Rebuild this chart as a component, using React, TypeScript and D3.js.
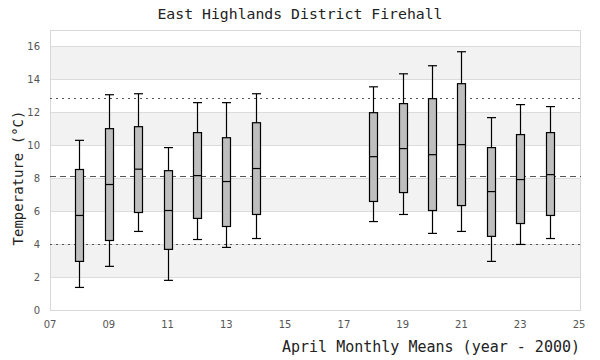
import { useEffect, useRef } from "react";
import * as d3 from "d3";

// April monthly means, year - 2000
const years = [8, 9, 10, 11, 12, 13, 14, 18, 19, 20, 21, 22, 23, 24];
const whiskerLow = [1.37, 2.65, 4.77, 1.8, 4.28, 3.8, 4.34, 5.37, 5.8, 4.65, 4.77, 2.95, 3.98, 4.34];
const q1 = [2.95, 4.22, 5.92, 3.68, 5.56, 5.07, 5.8, 6.59, 7.13, 6.04, 6.34, 4.47, 5.25, 5.74];
const median = [5.74, 7.62, 8.55, 6.04, 8.16, 7.8, 8.59, 9.31, 9.8, 9.43, 10.04, 7.19, 7.92, 8.22];
const q3 = [8.53, 11.01, 11.13, 8.46, 10.77, 10.46, 11.37, 11.98, 12.53, 12.83, 13.74, 9.86, 10.65, 10.77];
const whiskerHigh = [10.3, 13.07, 13.13, 9.86, 12.59, 12.59, 13.13, 13.55, 14.34, 14.83, 15.68, 11.68, 12.47, 12.35];

const yTicks = [0, 2, 4, 6, 8, 10, 12, 14, 16];
const xTicks = [7, 9, 11, 13, 15, 17, 19, 21, 23, 25];
const overallMean = 8.15;
const upperRef = 12.85;
const lowerRef = 3.98;

const W = 600;
const H = 360;
const margin = { top: 30, right: 20, bottom: 50, left: 50 };

const App = () => {
  const ref = useRef<SVGSVGElement | null>(null);

  useEffect(() => {
    if (!ref.current) return;
    const svg = d3.select(ref.current);
    svg.selectAll("*").remove();

    const x = d3.scaleLinear().domain([7, 25]).range([margin.left, W - margin.right - 1]);
    const y = d3.scaleLinear().domain([0, 17]).range([H - margin.bottom, margin.top]);

    const left = margin.left;
    const right = W - margin.right + 1;

    // alternating bands
    const bands = svg.append("g");
    for (let v = 2; v < 16; v += 4) {
      bands
        .append("rect")
        .attr("x", left)
        .attr("y", y(v + 2))
        .attr("width", right - left)
        .attr("height", y(v) - y(v + 2))
        .attr("fill", "#f2f2f2");
    }

    // gridlines
    svg
      .append("g")
      .selectAll("line")
      .data(yTicks.filter(d => d > 0))
      .join("line")
      .attr("x1", left)
      .attr("x2", right)
      .attr("y1", d => Math.round(y(d)) + 0.5)
      .attr("y2", d => Math.round(y(d)) + 0.5)
      .attr("stroke", "#dcdcdc");

    // frame
    svg
      .append("rect")
      .attr("x", left + 0.5)
      .attr("y", y(17) + 0.5)
      .attr("width", right - left - 1)
      .attr("height", y(0) - y(17))
      .attr("fill", "none")
      .attr("stroke", "#d8d8d8");

    // reference lines
    const refs = [
      { v: upperRef, dash: "2,4" },
      { v: overallMean, dash: "6,4" },
      { v: lowerRef, dash: "2,4" },
    ];
    svg
      .append("g")
      .selectAll("line")
      .data(refs)
      .join("line")
      .attr("x1", left)
      .attr("x2", right)
      .attr("y1", d => Math.round(y(d.v)) + 0.5)
      .attr("y2", d => Math.round(y(d.v)) + 0.5)
      .attr("stroke", "#555")
      .attr("stroke-dasharray", d => d.dash);

    // boxes
    const bw = 8;
    const g = svg.append("g").attr("stroke", "#000").attr("stroke-width", 1.2);
    years.forEach((yr, i) => {
      const cx = Math.round(x(yr)) + 0.5;
      const row = g.append("g");
      row.append("line").attr("x1", cx).attr("x2", cx).attr("y1", y(whiskerHigh[i])).attr("y2", y(q3[i]));
      row.append("line").attr("x1", cx).attr("x2", cx).attr("y1", y(q1[i])).attr("y2", y(whiskerLow[i]));
      row.append("line").attr("x1", cx - bw / 2 - 0.5).attr("x2", cx + bw / 2 + 0.5).attr("y1", y(whiskerHigh[i])).attr("y2", y(whiskerHigh[i]));
      row.append("line").attr("x1", cx - bw / 2 - 0.5).attr("x2", cx + bw / 2 + 0.5).attr("y1", y(whiskerLow[i])).attr("y2", y(whiskerLow[i]));
      row
        .append("rect")
        .attr("x", cx - bw / 2)
        .attr("y", y(q3[i]))
        .attr("width", bw)
        .attr("height", y(q1[i]) - y(q3[i]))
        .attr("fill", "#bebebe");
      row.append("line").attr("x1", cx - bw / 2).attr("x2", cx + bw / 2).attr("y1", y(median[i])).attr("y2", y(median[i]));
    });

    // tick labels
    const tickFont = "'DejaVu Sans', sans-serif";
    svg
      .append("g")
      .selectAll("text")
      .data(yTicks)
      .join("text")
      .attr("x", left - 10)
      .attr("y", d => y(d))
      .attr("dy", "0.35em")
      .attr("text-anchor", "end")
      .attr("font-family", tickFont)
      .attr("font-size", 10)
      .attr("fill", "#555")
      .text(d => d);

    svg
      .append("g")
      .selectAll("text")
      .data(xTicks)
      .join("text")
      .attr("x", d => x(d))
      .attr("y", y(0) + 18)
      .attr("text-anchor", "middle")
      .attr("font-family", tickFont)
      .attr("font-size", 10)
      .attr("fill", "#555")
      .text(d => d3.format("02d")(d));

    const mono = "'DejaVu Sans Mono', monospace";
    svg
      .append("text")
      .attr("x", W / 2)
      .attr("y", 19)
      .attr("text-anchor", "middle")
      .attr("font-family", mono)
      .attr("font-size", 14.8)
      .attr("fill", "#222")
      .text("East Highlands District Firehall");

    svg
      .append("text")
      .attr("x", W - margin.right)
      .attr("y", 352)
      .attr("text-anchor", "end")
      .attr("font-family", mono)
      .attr("font-size", 15)
      .attr("fill", "#222")
      .text("April Monthly Means (year - 2000)");

    svg
      .append("text")
      .attr("transform", `translate(23, ${(y(0) + y(17)) / 2 + 8}) rotate(-90)`)
      .attr("text-anchor", "middle")
      .attr("font-family", mono)
      .attr("font-size", 14)
      .attr("fill", "#222")
      .text("Temperature (°C)");
  }, []);

  return <svg ref={ref} width={W} height={H} style={{ position: "absolute", left: 0, top: 0, background: "#fff" }} />;
};

export default App;
